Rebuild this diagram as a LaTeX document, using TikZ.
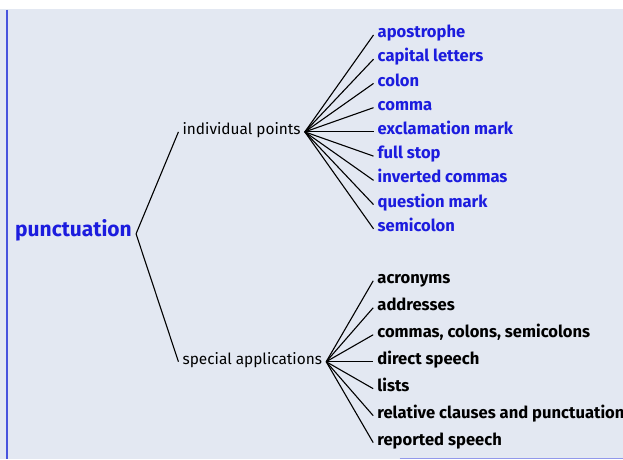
\documentclass[tikz,border=0pt]{standalone}
\usepackage{fontspec}
\setmainfont{Fira Sans}
\usepackage{tikz}
\usetikzlibrary{trees}
\definecolor{pagebg}{RGB}{227,232,242}
\definecolor{inkblue}{RGB}{28,28,222}
\definecolor{ruleblue}{RGB}{72,84,222}

\begin{document}
\begin{tikzpicture}[
      x=1pt, y=1pt,
      grow'=right,  % tree opens to the right, first child on top
      level 1/.style={level distance=105pt, sibling distance=230pt},
      edge from parent/.style={draw, line width=1.1pt},
      edge from parent path={(\tikzparentnode.east) -- (\tikzchildnode.west)},
      every node/.style={anchor=west, inner sep=4pt, text height=1.45ex, text depth=.45ex},
      topic/.style={font=\bfseries\fontsize{21}{25}\selectfont, text=inkblue},
      branch/.style={font=\fontsize{15.4}{18}\selectfont},
      mainleaf/.style={font=\bfseries\fontsize{16.6}{20}\selectfont, text=inkblue},
      specleaf/.style={font=\bfseries\fontsize{16.6}{20}\selectfont}
    ]
    % page background and margin rule
    \fill[white] (0,0) rectangle (623,-459);
    \fill[pagebg] (0,-9) rectangle (623,-459);
    \draw[ruleblue, line width=2pt] (7,-10) -- (7,-459);
    \draw[ruleblue!60, line width=1pt] (400,-458.5) -- (623,-458.5);
    \useasboundingbox (0,0) rectangle (623,-459);
    % root node: punctuation
    \node[topic] (punct) at (11,-234) {punctuation}
      child[yshift=-13pt, level 2/.style={level distance=132pt, sibling distance=24.25pt}] {
        node[branch] (indiv) {individual points}
          child {node[mainleaf] (apos) {apostrophe}}
          child {node[mainleaf] (caps) {capital letters}}
          child {node[mainleaf] (colon) {colon}}
          child {node[mainleaf] (comma) {comma}}
          child {node[mainleaf] (excl) {exclamation mark}}
          child {node[mainleaf] (stop) {full stop}}
          child {node[mainleaf] (quotes) {inverted commas}}
          child {node[mainleaf] (quest) {question mark}}
          child {node[mainleaf] (semi) {semicolon}}
      }
      child[yshift=-13pt, level 2/.style={level distance=121pt, sibling distance=27pt}] {
        node[branch] (special) {special applications}
          child {node[specleaf] (acro) {acronyms}}
          child {node[specleaf] (addr) {addresses}}
          child {node[specleaf] (ccs) {commas, colons, semicolons}}
          child {node[specleaf] (direct) {direct speech}}
          child {node[specleaf] (lists) {lists}}
          child {node[specleaf] (relcl) {relative clauses and punctuation}}
          child {node[specleaf] (reported) {reported speech}}
      };
  \end{tikzpicture}
\end{document}
